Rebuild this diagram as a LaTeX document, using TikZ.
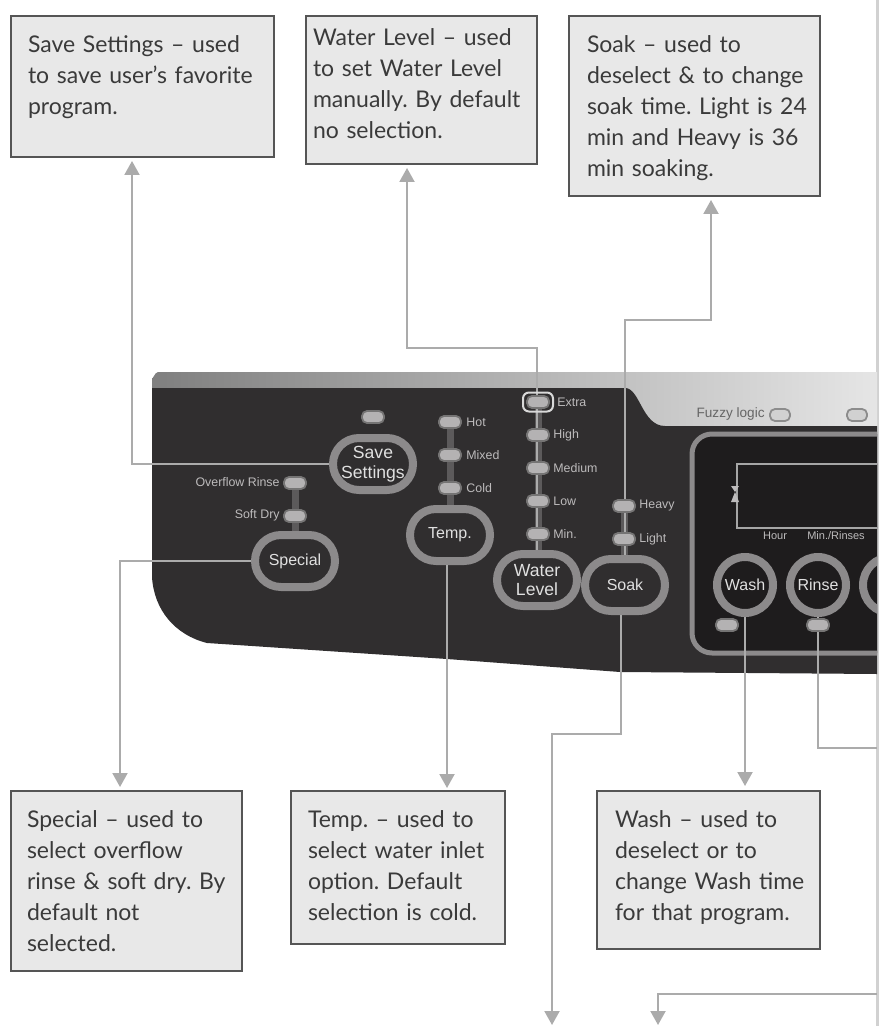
\documentclass[tikz,border=0pt]{standalone}
\usepackage{fontspec}
\setmainfont{Lato}
\newfontfamily\panelfont{Liberation Sans}
\usetikzlibrary{arrows.meta,shapes.misc}

\definecolor{paneldark}{HTML}{302E2F}
\definecolor{displaydark}{HTML}{1E1C1D}
\definecolor{ringgray}{HTML}{8C8A8B}
\definecolor{leadergray}{HTML}{ABABAB}
\definecolor{boxfill}{HTML}{E8E8E8}
\definecolor{boxline}{HTML}{555555}
\definecolor{boxtext}{HTML}{3A3A3A}
\definecolor{ledgray}{HTML}{B4B2B3}
\definecolor{stemgray}{HTML}{5C5A5B}
\definecolor{lamptext}{HTML}{BDBBBC}

\begin{document}
\frenchspacing
\begin{tikzpicture}[
  x=0.5pt, y=-0.5pt,
  infobox/.style   = {draw=boxline, fill=boxfill, line width=1pt, anchor=north west,
                      inner sep=0pt, text=boxtext, font=\fontsize{11.5}{15.5}\selectfont, align=left},
  oval/.style      = {draw=ringgray, line width=4pt, rounded rectangle, inner sep=0pt,
                      minimum width=40pt, minimum height=26pt,
                      text=white!88!black, align=center,
                      font=\panelfont\fontsize{8}{9.5}\selectfont},
  twoline/.style   = {font=\panelfont\fontsize{8.8}{9.8}\selectfont},
  roundbtn/.style  = {draw=ringgray, line width=4pt, circle, inner sep=0pt, minimum size=28pt,
                      text=white!88!black, font=\panelfont\fontsize{8}{9.5}\selectfont},
  led/.style       = {draw=ledgray!65!black, line width=.9pt, fill=ledgray, rounded corners=2.5pt,
                      minimum width=11pt, minimum height=6pt, inner sep=0pt},
  lamp/.style      = {text=lamptext, inner sep=0pt, font=\panelfont\fontsize{6.2}{7}\selectfont},
  small/.style     = {lamp, font=\panelfont\fontsize{5.5}{6}\selectfont},
  stem/.style      = {draw=stemgray, line width=3.5pt},
  leader/.style    = {draw=leadergray, line width=1pt},
  pointer/.style   = {leader, -{Triangle[length=7pt,width=7.5pt]}},
]

  \useasboundingbox (0,0) rectangle (885,1026);
  % page edge
  \draw[draw=black!18, line width=1.2pt] (877.5,0) -- (877.5,1026);

  % panel body
  \shade[left color=black!50, right color=black!10]
    (152,430) -- (152,378) to[out=-90,in=180] (158,372) -- (877,372) -- (877,430) -- cycle;
  \fill[paneldark] (152,388) -- (625,388) .. controls (640,388) and (642,426) .. (665,426) -- (877,426)
    -- (877,674) -- (620,672) -- (447,659) -- (207,643) .. controls (175,635) and (154,610) .. (152,577) -- cycle;

  \begin{scope}
    \clip (0,0) rectangle (877,1026);
    \draw[draw=ringgray, fill=displaydark, line width=2.5pt, rounded corners=10pt] (692,434) rectangle (910,653);
    \draw[draw=black!35, fill=displaydark, line width=1pt] (737,464) rectangle (900,528);
    \node[roundbtn] (thirdbtn) at (891,585) {};
    \node[led, draw=black!45, fill=black!18, minimum width=10pt] (fuzzyledb) at (857,415) {};
  \end{scope}

  % buttons
  \node[oval, twoline] (savebtn)    at (373,464) {Save\\Settings};
  \node[oval] (specialbtn) at (295,561) {Special};
  \node[oval] (tempbtn)    at (450,535) {Temp.};
  \node[oval, twoline] (waterbtn)   at (537,580) {Water\\Level};
  \node[oval] (soakbtn)    at (625,585) {Soak};
  \node[roundbtn] (washbtn)  at (745,585) {Wash};
  \node[roundbtn] (rinsebtn) at (818,585) {Rinse};

  % note boxes
  \node[infobox, minimum width=131.5pt, text width=131.5pt, text height=18.5pt, text depth=52pt,
        execute at begin node={\leftskip=8.5pt}] (savebox) at (10,15)
    {Save Settings -- used\\to save user's favorite\\program.};
  \node[infobox, minimum width=115.5pt, text width=115.5pt, text height=15pt, text depth=59pt,
        execute at begin node={\leftskip=3.5pt}] (waterbox) at (305,15)
    {Water Level -- used\\to set Water Level\\manually. By default\\no selection.};
  \node[infobox, minimum width=125.5pt, text width=125.5pt, text height=18.5pt, text depth=71.5pt,
        execute at begin node={\leftskip=9pt}] (soakbox) at (568,15)
    {Soak -- used to\\deselect \& to change\\soak time. Light is 24\\min and Heavy is 36\\min soaking.};
  \node[infobox, minimum width=115.5pt, text width=115.5pt, text height=18pt, text depth=72pt,
        execute at begin node={\leftskip=8pt}] (specialbox) at (10,790)
    {Special -- used to\\select overflow\\rinse \& soft dry. By\\default not\\selected.};
  \node[infobox, minimum width=107pt, text width=107pt, text height=18pt, text depth=58.5pt,
        execute at begin node={\leftskip=8.5pt}] (tempbox) at (290,790)
    {Temp. -- used to\\select water inlet\\option. Default\\selection is cold.};
  \node[infobox, minimum width=111.5pt, text width=111.5pt, text height=18pt, text depth=61pt,
        execute at begin node={\leftskip=9pt}] (washbox) at (596,790)
    {Wash -- used to\\deselect or to\\change Wash time\\for that program.};

  % stems behind the lamps
  \coordinate (heavypos) at (624,506);
  \coordinate (extrapos) at (538,402);
  \coordinate (hotpos)   at (450,422);
  \coordinate (overpos)  at (295,483);
  \draw[stem] (soakbtn.north -| heavypos)   -- (heavypos);
  \draw[stem] (waterbtn.north -| extrapos)  -- (extrapos);
  \draw[stem] (tempbtn.north -| hotpos)     -- (hotpos);
  \draw[stem] (specialbtn.north -| overpos) -- (overpos);

  % leaders
  \coordinate (waterbend)  at (407,348);
  \coordinate (soakupbend) at (711,320);
  \coordinate (soakdown)   at (552,734);
  \coordinate (soakend)    at (552,1025);
  \coordinate (tempdrop)   at (447,600);
  \coordinate (rinseexit)  at (877,748);
  \coordinate (edgeback)   at (877,994);
  \coordinate (nextend)    at (658,1025);

  \draw[pointer, shorten >=1.5pt] (savebtn.west) -| ([xshift=-5.25pt]savebox.south);
  \draw[pointer, shorten >=1.5pt] (specialbtn.west) -| ([xshift=-3.25pt]specialbox.north);
  \draw[pointer, shorten >=1.5pt] (waterbtn.north) |- (waterbend) -- (waterbend |- waterbox.south);
  \draw[pointer, shorten >=1.5pt] (soakbtn.north) |- (soakupbend) -- (soakupbend |- soakbox.south);
  \draw[pointer, shorten >=1pt] (tempdrop |- tempbtn.south) -- (tempdrop |- tempbox.north);
  \draw[pointer, shorten >=2pt] (washbtn.south) -- (washbtn.south |- washbox.north);
  \draw[pointer] ([xshift=-2pt]soakbtn.south) |- (soakdown) -- (soakend);
  \draw[leader]  (rinsebtn.south) |- (rinseexit);
  \draw[pointer] (edgeback) -| (nextend);

  % lamps
  \node[led] (saveled) at (373,417) {};
  \node[led] (hot)   at (hotpos) {};
  \node[led] (mixed) at (450,455) {};
  \node[led] (cold)  at (450,488) {};
  \node[led] (over)  at (overpos) {};
  \node[led] (soft)  at (295,516) {};
  \node[led] (extra) at (extrapos) {};
  \node[led] (high)  at (538,435) {};
  \node[led] (medium) at (538,468) {};
  \node[led] (low)   at (538,501) {};
  \node[led] (min)   at (538,534) {};
  \node[led] (heavy) at (heavypos) {};
  \node[led] (light) at (624,539) {};
  \node[led] (washled)  at (727,625) {};
  \node[led] (rinseled) at (818,625) {};
  \node[draw=white!85!black, line width=1pt, rounded corners=3pt, minimum width=15pt, minimum height=9.5pt,
        inner sep=0pt] (extraring) at (extrapos) {};
  \node[led, draw=black!45, fill=black!18, minimum width=10pt] (fuzzyled) at (780,415) {};

  \node[lamp, anchor=west] (hotlbl)    at (466,422) {Hot};
  \node[lamp, anchor=west] (mixedlbl)  at (466,455) {Mixed};
  \node[lamp, anchor=west] (coldlbl)   at (466,488) {Cold};
  \node[lamp, anchor=east] (overlbl)   at (280,482) {Overflow Rinse};
  \node[lamp, anchor=east] (softlbl)   at (280,515) {Soft Dry};
  \node[lamp, anchor=west] (extralbl)  at (557,402) {Extra};
  \node[lamp, anchor=west] (highlbl)   at (553,435) {High};
  \node[lamp, anchor=west] (mediumlbl) at (553,468) {Medium};
  \node[lamp, anchor=west] (lowlbl)    at (553,501) {Low};
  \node[lamp, anchor=west] (minlbl)    at (553,534) {Min.};
  \node[lamp, anchor=west] (heavylbl)  at (639,506) {Heavy};
  \node[lamp, anchor=west] (lightlbl)  at (639,539) {Light};
  \node[lamp, text=black!60, anchor=east, font=\panelfont\fontsize{6.8}{8}\selectfont] (fuzzylbl) at (765,414) {Fuzzy logic};
  \node[small] (hourlbl) at (775,536) {Hour};
  \node[small] (minrinselbl) at (836,536) {Min./Rinses};

  % hourglass on the display frame
  \fill[lamptext] (731,486) -- (739,486) -- (735,492) -- (739,502) -- (731,502) -- (735,492) -- cycle;
\end{tikzpicture}
\end{document}
